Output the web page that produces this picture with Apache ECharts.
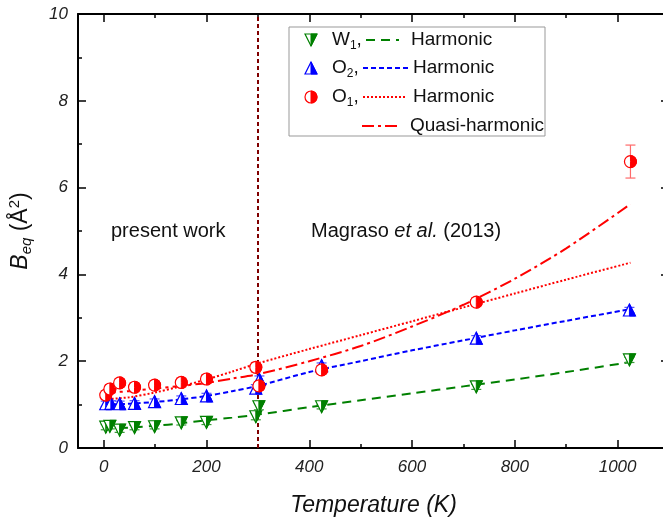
<!DOCTYPE html>
<html>
<head>
<meta charset="utf-8">
<script src="https://cdn.jsdelivr.net/npm/echarts@6/dist/echarts.min.js"></script>
<style>html,body{margin:0;padding:0;background:#fff;}#c{width:663px;height:521px;}</style>
</head>
<body>
<div id="c"></div>
<script>
// ---- data ----
const xMajorTicks = [0, 200, 400, 600, 800, 1000];
const xMinorTicks = [100, 300, 500, 700, 900];
const dividerT = 300;

// [T, Beq, error]
const w1Points = [[4,0.48,0.06],[12,0.50,0.06],[31,0.41,0.05],[60,0.47,0.05],[99,0.49,0.05],[151,0.58,0.05],[200,0.59,0.05],[296,0.72,0.07],[302,0.95,0.07],[424,0.95,0.05],[725,1.41,0.06],[1023,2.03,0.06]];
const o2Points = [[4,1.02,0.06],[14,1.03,0.06],[31,1.02,0.06],[60,1.03,0.06],[99,1.07,0.06],[151,1.14,0.06],[200,1.20,0.06],[296,1.38,0.08],[303,1.58,0.08],[424,1.90,0.06],[725,2.53,0.06],[1023,3.18,0.06]];
const o1Points = [[4,1.22,0.10],[12,1.36,0.10],[31,1.50,0.10],[60,1.40,0.10],[99,1.45,0.10],[151,1.51,0.10],[200,1.59,0.10],[296,1.86,0.11],[302,1.43,0.10],[424,1.80,0.10],[725,3.36,0.10],[1025,6.60,0.38]];

const fitT   = [0, 50, 100, 150, 200, 250, 300, 400, 500, 600, 700, 800, 900, 1025];
const w1Fit  = [0.45,0.47,0.51,0.57,0.64,0.70,0.77,0.94,1.10,1.26,1.42,1.58,1.75,1.98];
const o2Fit  = [1.00,1.02,1.06,1.12,1.20,1.31,1.43,1.75,2.00,2.25,2.48,2.71,2.93,3.20];
const o1Fit  = [1.12,1.17,1.28,1.42,1.58,1.76,1.95,2.28,2.60,2.92,3.24,3.56,3.88,4.27];
const qhFit  = [1.27,1.31,1.37,1.43,1.50,1.60,1.70,2.00,2.35,2.80,3.30,3.90,4.60,5.62];

// ---- styling ----
const GREEN = '#008000', BLUE = '#0000ff', RED = '#ff0000';
const FONT = "'Liberation Sans', Arial, sans-serif";
const S = 12; // marker size

function markerShapes(kind, cx, cy, color) {
  const h = S / 2;
  if (kind === 'down') {
    return [
      {type:'polygon', shape:{points:[[cx-h,cy-h],[cx+h,cy-h],[cx,cy+h]]}, style:{fill:'#fff', stroke:color, lineWidth:1.2}},
      {type:'polygon', shape:{points:[[cx,cy-h],[cx+h,cy-h],[cx,cy+h]]}, style:{fill:color, stroke:color, lineWidth:1}}
    ];
  } else if (kind === 'up') {
    return [
      {type:'polygon', shape:{points:[[cx,cy-h],[cx-h,cy+h],[cx+h,cy+h]]}, style:{fill:'#fff', stroke:color, lineWidth:1.2}},
      {type:'polygon', shape:{points:[[cx,cy-h],[cx,cy+h],[cx+h,cy+h]]}, style:{fill:color, stroke:color, lineWidth:1}}
    ];
  } else {
    return [
      {type:'circle', shape:{cx:cx, cy:cy, r:h}, style:{fill:'#fff', stroke:color, lineWidth:1.2}},
      {type:'sector', shape:{cx:cx, cy:cy, r:h, r0:0, startAngle:-Math.PI/2, endAngle:Math.PI/2, clockwise:true}, style:{fill:color, stroke:color, lineWidth:1}}
    ];
  }
}

function pointSeries(name, data, kind, color, errColor) {
  return {
    name: name, type: 'custom', xAxisIndex: 0, yAxisIndex: 0, z: 5,
    data: data,
    renderItem: function (params, api) {
      const x = api.value(0), y = api.value(1), e = api.value(2);
      const p = api.coord([x, y]);
      const t = api.coord([x, y + e]);
      const b = api.coord([x, y - e]);
      const cw = 5;
      const children = [
        {type:'line', shape:{x1:p[0], y1:t[1], x2:p[0], y2:b[1]}, style:{stroke:errColor, lineWidth:1.2}},
        {type:'line', shape:{x1:p[0]-cw, y1:t[1], x2:p[0]+cw, y2:t[1]}, style:{stroke:errColor, lineWidth:1.2}},
        {type:'line', shape:{x1:p[0]-cw, y1:b[1], x2:p[0]+cw, y2:b[1]}, style:{stroke:errColor, lineWidth:1.2}}
      ].concat(markerShapes(kind, p[0], p[1], color));
      return {type:'group', children: children};
    }
  };
}

function fitSeries(name, vals, color, dash) {
  return {
    name: name, type: 'line', xAxisIndex: 0, yAxisIndex: 0, z: 3,
    data: fitT.map((t, i) => [t, vals[i]]),
    showSymbol: false, smooth: 0.3,
    lineStyle: {color: color, width: 2, type: dash},
    silent: true
  };
}

function xAx(pos, ticks, len, labels, line) {
  return {
    type: 'value', position: pos, min: -50, max: 1100,
    axisLine: {show: line, onZero: false, lineStyle: {color: '#000', width: 2}},
    axisTick: {show: true, inside: true, length: len, customValues: ticks, lineStyle: {color: '#000', width: 1.5}},
    axisLabel: labels ? {show: true, customValues: ticks, formatter: v => String(v), fontFamily: FONT, fontStyle: 'italic', fontSize: 17, color: '#222', margin: 11} : {show: false},
    splitLine: {show: false},
    name: labels ? 'Temperature (K)' : '',
    nameLocation: 'middle', nameGap: 46,
    nameTextStyle: {fontFamily: FONT, fontStyle: 'italic', fontSize: 23, color: '#111'}
  };
}

function yAx(pos, labels) {
  const ax = {
    type: 'value', position: pos, min: 0, max: 10, interval: 2,
    axisLine: {show: labels, onZero: false, lineStyle: {color: '#000', width: 2}},
    axisTick: {show: true, inside: true, length: 8, lineStyle: {color: '#000', width: 1.5}},
    minorTick: {show: true, splitNumber: 2, length: 4, lineStyle: {color: '#000', width: 1.5}},
    axisLabel: labels ? {show: true, fontFamily: FONT, fontStyle: 'italic', fontSize: 17, color: '#222', margin: 10} : {show: false},
    splitLine: {show: false}, minorSplitLine: {show: false}
  };
  if (labels) {
    ax.name = '{b|B}{s|eq} (Å{p|2})';
    ax.nameLocation = 'middle';
    ax.nameGap = 44;
    ax.nameRotate = 90;
    ax.nameTextStyle = {
      fontFamily: FONT, fontSize: 23, color: '#111',
      rich: {
        b: {fontFamily: FONT, fontStyle: 'italic', fontSize: 23, color: '#111'},
        s: {fontFamily: FONT, fontStyle: 'italic', fontSize: 15, color: '#111', padding: [12, 0, 0, 0]},
        p: {fontFamily: FONT, fontSize: 15, color: '#111', padding: [0, 0, 12, 0]}
      }
    };
  }
  return ax;
}

// legend graphic
const legRows = [40, 68, 97, 126];
const legendEls = [];
legendEls.push({type:'rect', shape:{x:289, y:27, width:256, height:109}, style:{fill:'#fff', stroke:'#999', lineWidth:1}, z:100});
const legInfo = [
  {kind:'down', color:GREEN, label:'W{s|1},', line:[366,399], dash:[9,6], text:'Harmonic', tx:411},
  {kind:'up', color:BLUE, label:'O{s|2},', line:[363,408], dash:[5,3], text:'Harmonic', tx:413},
  {kind:'circle', color:RED, label:'O{s|1},', line:[363,405], dash:[2,2], text:'Harmonic', tx:413},
  {kind:null, color:RED, label:null, line:[362,400], dash:[12,4,3,4], text:'Quasi-harmonic', tx:410}
];
legInfo.forEach((r, i) => {
  const y = legRows[i];
  if (r.kind) {
    markerShapes(r.kind, 311, y, r.color).forEach(s => { s.z = 101; legendEls.push(s); });
  }
  if (r.label) {
    legendEls.push({type:'text', x:332, y:y, z:101, style:{text:r.label, fontFamily:FONT, fontSize:19, fill:'#111', verticalAlign:'middle', align:'left',
      rich:{s:{fontFamily:FONT, fontSize:12, fill:'#111', padding:[12,0,0,0]}}}});
  }
  legendEls.push({type:'line', z:101, shape:{x1:r.line[0], y1:y, x2:r.line[1], y2:y}, style:{stroke:r.color, lineWidth:2, lineDash:r.dash}});
  legendEls.push({type:'text', x:r.tx, y:y, z:101, style:{text:r.text, fontFamily:FONT, fontSize:19, fill:'#111', verticalAlign:'middle', align:'left'}});
});
legendEls.push({type:'text', x:111, y:231, z:50, style:{text:'present work', fontFamily:FONT, fontSize:20, fill:'#111', verticalAlign:'middle'}});
legendEls.push({type:'text', x:311, y:231, z:50, style:{text:'Magraso {i|et al.} (2013)', fontFamily:FONT, fontSize:20, fill:'#111', verticalAlign:'middle',
  rich:{i:{fontFamily:FONT, fontSize:20, fontStyle:'italic', fill:'#111'}}}});

const chart = echarts.init(document.getElementById('c'), null, {renderer: 'canvas'});
chart.setOption({
  animation: false,
  backgroundColor: '#fff',
  grid: {left: 78, right: -6, top: 14, bottom: 73, containLabel: false, outerBoundsMode: 'none'},
  xAxis: [
    xAx('bottom', xMajorTicks, 8, true, true),
    xAx('bottom', xMinorTicks, 4, false, false),
    xAx('top', xMajorTicks, 8, false, true),
    xAx('top', xMinorTicks, 4, false, false)
  ],
  yAxis: [yAx('left', true), yAx('right', false)],
  graphic: legendEls,
  series: [
    fitSeries('W1 harmonic', w1Fit, GREEN, [9, 6]),
    fitSeries('O2 harmonic', o2Fit, BLUE, [5, 3]),
    fitSeries('O1 harmonic', o1Fit, RED, [2, 2]),
    fitSeries('O1 quasi-harmonic', qhFit, RED, [12, 4, 3, 4]),
    {
      type: 'line', xAxisIndex: 0, yAxisIndex: 0, data: [], silent: true,
      markLine: {silent: true, symbol: 'none', label: {show: false},
        lineStyle: {color: '#800000', width: 2, type: [4, 3]},
        data: [{xAxis: dividerT}]}
    },
    pointSeries('W1', w1Points, 'down', GREEN, '#3a9a3a'),
    pointSeries('O2', o2Points, 'up', BLUE, '#5555ff'),
    pointSeries('O1', o1Points, 'circle', RED, '#ff6a6a')
  ]
});
</script>
</body>
</html>
